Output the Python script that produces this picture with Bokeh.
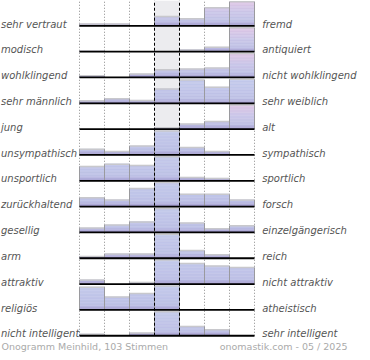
from bokeh.plotting import figure
from bokeh.models import Range1d
from bokeh.embed import file_html
from bokeh.resources import INLINE
from bokeh.core.properties import value

# ---------------- data ----------------
left_labels = ["sehr vertraut", "modisch", "wohlklingend", "sehr männlich", " jung",
               "unsympathisch", "unsportlich", "zurückhaltend", "gesellig", "arm",
               "attraktiv", "religiös", "nicht intelligent"]
right_labels = ["fremd", "antiquiert", "nicht wohlklingend", "sehr weiblich", "alt",
                "sympathisch", "sportlich", "forsch", "einzelgängerisch", "reich",
                "nicht attraktiv", "atheistisch", "sehr intelligent"]

# relative bar heights per row (7 scale steps, row maximum = 100)
vertraut = [7, 7, 0, 39, 29, 75, 100]
modisch = [2, 0, 0, 0, 7, 18, 100]
wohlklingend = [7, 0, 14, 32, 35, 39, 100]
maennlich = [11, 19, 12, 60, 97, 67, 100]
jung = [0, 0, 0, 6, 21, 32, 100]
unsympathisch = [24, 14, 37, 100, 31, 14, 0]
unsportlich = [60, 69, 64, 100, 14, 10, 0]
zurueckhaltend = [37, 28, 75, 100, 51, 51, 28]
gesellig = [18, 31, 44, 100, 39, 15, 28]
arm = [7, 18, 18, 100, 32, 15, 0]
attraktiv = [17, 0, 7, 100, 86, 75, 69]
religioes = [95, 54, 68, 100, 0, 0, 0]
intelligent = [6, 0, 11, 100, 39, 25, 0]

rows = [vertraut, modisch, wohlklingend, maennlich, jung, unsympathisch, unsportlich,
        zurueckhaltend, gesellig, arm, attraktiv, religioes, intelligent]

footer_left = "Onogramm Meinhild, 103 Stimmen"
footer_right = "onomastik.com - 05 / 2025"

# ---------------- style ----------------
PINK_ROWS = {0, 1, 2, 4}
FONT = value("DejaVu Sans")
ROW_PX = 25.83
COL_PX = 25.0
FIG_W, FIG_H = 362, 352
CHART_LEFT_PX = 79
MAXH = 24.0 / ROW_PX
NBANDS = 16

nrow = len(rows)
ncol = len(rows[0])
y_top = 25.3 / ROW_PX
y_bottom = y_top - FIG_H / ROW_PX


def hex2rgb(h):
    h = h.lstrip("#")
    return tuple(int(h[i:i + 2], 16) for i in (0, 2, 4))


def grad(stops, f):
    for (f0, c0), (f1, c1) in zip(stops[:-1], stops[1:]):
        if f <= f1:
            t = 0 if f1 == f0 else (f - f0) / (f1 - f0)
            a, b = hex2rgb(c0), hex2rgb(c1)
            return "#%02x%02x%02x" % tuple(int(round(a[i] + (b[i] - a[i]) * t)) for i in range(3))
    return stops[-1][1]


BLUE = [(0.0, "#968cc2"), (0.08, "#aeaad8"), (0.22, "#bec1e6"), (1.0, "#c4caeb")]
PINK = [(0.0, "#968cc2"), (0.08, "#aeaad8"), (0.22, "#c0c2e6"), (0.55, "#cac6e8"), (1.0, "#dec6e6")]

p = figure(width=FIG_W, height=FIG_H, output_backend="svg", toolbar_location=None,
           x_range=Range1d(-CHART_LEFT_PX / COL_PX, (FIG_W - CHART_LEFT_PX) / COL_PX),
           y_range=Range1d(y_bottom, y_top),
           x_axis_location=None, y_axis_location=None,
           min_border=0, min_border_left=0, min_border_right=0,
           min_border_top=0, min_border_bottom=0)
p.grid.visible = False
p.outline_line_color = None
p.background_fill_color = "white"
p.border_fill_color = "white"

# neutral middle column
p.quad(left=[3], right=[4], bottom=[-(nrow - 1)], top=[y_top],
       fill_color="#ececef", line_color=None)

# dotted column boundaries
for b in [0, 1, 2, 5, 6, 7]:
    p.segment(x0=[b], y0=[-(nrow - 1)], x1=[b], y1=[y_top],
              line_color="#8a8a8a", line_dash="1 2", line_width=1)

# bars with vertical gradient (stacked bands)
L, R, B, T, C = [], [], [], [], []
tx0, tx1, ty = [], [], []
sx, sy0, sy1 = [], [], []
bh = MAXH / NBANDS
for r, vals in enumerate(rows):
    base = -r
    stops = PINK if r in PINK_ROWS else BLUE
    for c, v in enumerate(vals):
        h = v / 100.0 * MAXH
        if h <= 0:
            continue
        k = 0
        while k * bh < h:
            lo = k * bh
            hi = min((k + 1) * bh, h)
            L.append(c)
            R.append(c + 1)
            B.append(base + lo)
            T.append(base + hi)
            C.append(grad(stops, (lo + hi) / 2 / MAXH))
            k += 1
        tx0.append(c)
        tx1.append(c + 1)
        ty.append(base + h)
        sx += [c, c + 1]
        sy0 += [base, base]
        sy1 += [base + h, base + h]

p.quad(left=L, right=R, bottom=B, top=T, fill_color=C, line_color=C, line_width=0.5)
p.segment(x0=tx0, y0=ty, x1=tx1, y1=ty, line_color="#c8c8cc", line_width=1.5)
p.segment(x0=sx, y0=sy0, x1=sx, y1=sy1, line_color="#9a9a9e", line_width=1)

# dashed boundaries of middle column
for b in [3, 4]:
    p.segment(x0=[b], y0=[-(nrow - 1)], x1=[b], y1=[y_top],
              line_color="black", line_dash="3 2", line_width=1)

# baselines
p.segment(x0=[0] * nrow, y0=[-r for r in range(nrow)], x1=[ncol] * nrow,
          y1=[-r for r in range(nrow)], line_color="black", line_width=1.8)

# labels
lab_y = [-r + 1.8 / ROW_PX for r in range(nrow)]
p.text(x=[-CHART_LEFT_PX / COL_PX + 0.02] * nrow, y=lab_y, text=left_labels,
       text_font=FONT, text_font_style="italic", text_font_size="10px",
       text_color="#555555", text_align="left", text_baseline="alphabetic")
p.text(x=[ncol + 7.7 / COL_PX] * nrow, y=lab_y, text=right_labels,
       text_font=FONT, text_font_style="italic", text_font_size="10px",
       text_color="#555555", text_align="left", text_baseline="alphabetic")

# footer
fy = -(nrow - 1) - 11.0 / ROW_PX
p.text(x=[-CHART_LEFT_PX / COL_PX + 0.04], y=[fy], text=[footer_left],
       text_font=FONT, text_font_size="9.5px", text_color="#aaaaaa",
       text_align="left", text_baseline="middle")
p.text(x=[(347 - CHART_LEFT_PX) / COL_PX], y=[fy], text=[footer_right],
       text_font=FONT, text_font_size="9.5px", text_color="#aaaaaa",
       text_align="right", text_baseline="middle")

open("out.html", "w").write(file_html(p, INLINE))
